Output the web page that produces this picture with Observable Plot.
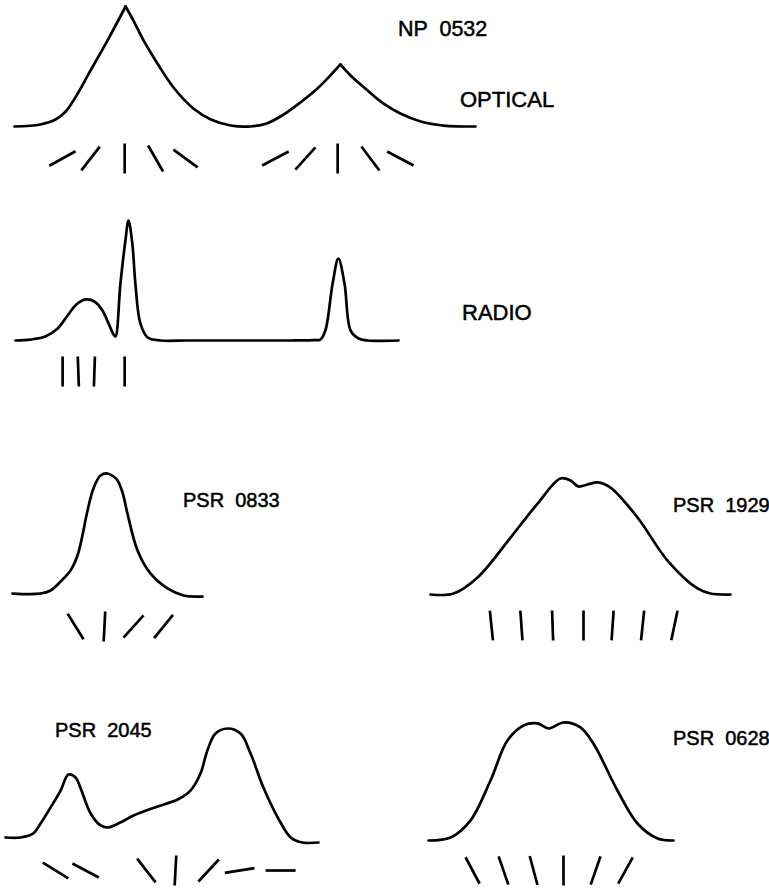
<!DOCTYPE html>
<html><head><meta charset="utf-8">
<script src="https://cdn.jsdelivr.net/npm/d3@7"></script>
<script src="https://cdn.jsdelivr.net/npm/@observablehq/plot@0.6"></script>
<style>
html,body{margin:0;padding:0;background:#fff;}
#fig{position:relative;width:769px;height:890px;background:#fff;overflow:hidden;}
.lab{position:absolute;font-family:"Liberation Sans",Arial,sans-serif;line-height:1;color:#000;white-space:pre;-webkit-text-stroke:0.5px #000;}
</style></head><body><div id="fig"></div>
<script>
// ---- Data: pulse phase (0-100 across each trace) and relative intensity (0-100) ----
const opticalProfile = [[0,0],[5.6,1.7],[8.9,5.8],[11.1,12.5],[13.2,24.2],[16.5,46.7],[20.4,73.3],[24.1,100],
  [25.8,88.3],[28,71.7],[31,52.5],[34.5,32.5],[38.8,15],[42.6,5.8],[46.9,0.8],[51.2,0],[54.7,2.5],[58.4,10],
  [62,20],[65.7,31.7],[68.5,42.5],[70.7,51.7],[72.9,42.5],[76.6,30],[80,19.2],[83.7,10.8],[88.1,4.2],[93.1,0.8],[100,0]];
const opticalCusps = [24.1, 70.7];
const opticalTickPhase = [10.4,16.5,23.9,30.6,37.1,56.6,63.1,70.1,77.2,83.7];
const opticalTickAngle = [61,38,0,-30,-54,62,42,0,-37,-62];

const radioProfile = [[0,0],[3.9,0.8],[7.8,3.3],[11,10],[13.6,20.8],[15.9,30],[18.3,34.2],[20.6,32.5],[22.7,25],
  [24.3,14.2],[25.6,5],[26.1,3.3],[27.4,47.5],[28.7,83.3],[29.5,100],[30.5,80.8],[31.3,47.5],[32.6,14.2],
  [34.5,2.5],[37.9,0],[45,0],[60,0],[72,0],[78,0.3],[79.6,0.8],[80.9,8.3],
  [82.8,47.5],[84.3,68.3],[85.9,47.5],[87.5,8.3],[89.6,1.7],[92,0],[100,0]];
const radioTickPhase = [12.3,16.4,20.6,28.5];
const radioTickAngle = [0,-2,2,0];

const psr0833Profile = [[0,0.8],[14.7,0.8],[20,3.3],[25.3,10.7],[30.5,19.8],[34.2,32.2],[36.8,48.8],[39.5,69.4],
  [42.6,87.6],[46.3,98.3],[50,100],[53.2,97.5],[55.3,94.2],[57.9,84.3],[60.5,66.9],[65.8,36.4],[72.6,17.4],
  [81.6,5],[90,-0.8],[100,-1.7]];
const psr0833TickPhase = [33.2,48.4,63.7,79.5];
const psr0833TickAngle = [-32,3,42,39];

const psr1929Profile = [[0,0],[7.7,0.9],[15.7,14.7],[26.7,49.1],[35.7,78.4],[43.3,100],[46.7,98.3],[49.3,93.1],
  [52.3,94.8],[55.7,96.6],[60,92.2],[69,66.4],[79,29.3],[89,5.2],[93.3,0.9],[100,0]];
const psr1929TickPhase = [20.3,30.3,40.7,51,60.7,70.7,81.3];
const psr1929TickAngle = [-6,-4,-2,0,4,6,12];

const psr2045Profile = [[0,2.7],[4.8,2.7],[8.9,6.3],[11.2,15.2],[14.4,29.5],[17.6,44.6],[20.1,58.9],[22.4,56.3],
  [23.9,47.3],[27.2,24.1],[30.4,13.4],[32.6,11.6],[36.7,16.1],[40.9,22.3],[48.6,30.4],[55,36.6],[59.1,44.6],
  [62.3,59.8],[64.5,80.4],[67.1,95.5],[70.9,100],[75.1,95.5],[78.3,77.7],[82.4,47.3],[87,20.5],[91.1,2.7],
  [94.9,-1.8],[100,-1.8]];
const psr2045TickPhase = [16,25.6,45,54.3,64.9,74.8,87.9];
const psr2045TickAngle = [-58,-62,-38,3,43,81,90];

const psr0628Profile = [[0,0],[9,2.5],[17.1,16.9],[25.3,50.8],[32.2,84.7],[38.8,97.5],[44.5,99.2],[49,94.9],
  [55.1,100],[62,95.8],[67.3,82.2],[77.1,42.4],[85.3,14.4],[93.5,1.7],[100,0]];
const psr0628TickPhase = [18,30.6,42.9,55.1,68.2,80.4];
const psr0628TickAngle = [-28,-19,-15,0,19,29];

const labelTexts = ["NP  0532","OPTICAL","RADIO","PSR  0833","PSR  1929","PSR  2045","PSR  0628"];

// ---- Layout (page pixels) ----
const panels = [
  {profile: opticalProfile, cusps: opticalCusps, tp: opticalTickPhase, ta: opticalTickAngle, x0:14, x1:475, top:6, base:126, tickDy:32},
  {profile: radioProfile, cusps: [], tp: radioTickPhase, ta: radioTickAngle, x0:15, x1:398, top:220, base:340, tickDy:31},
  {profile: psr0833Profile, cusps: [], tp: psr0833TickPhase, ta: psr0833TickAngle, x0:12, x1:202, top:473, base:594, tickDy:32},
  {profile: psr1929Profile, cusps: [], tp: psr1929TickPhase, ta: psr1929TickAngle, x0:430, x1:730, top:478, base:594, tickDy:31},
  {profile: psr2045Profile, cusps: [], tp: psr2045TickPhase, ta: psr2045TickAngle, x0:5, x1:318, top:728, base:840, tickDy:30},
  {profile: psr0628Profile, cusps: [], tp: psr0628TickPhase, ta: psr0628TickAngle, x0:428, x1:673, top:722, base:840, tickDy:30}
];
const labelPos = [
  {x:398, base:37, size:21.5},{x:460, base:108, size:22},{x:462, base:321, size:22},
  {x:183, base:507, size:20},{x:673, base:512, size:20},{x:55, base:737, size:20},{x:673, base:745, size:20}
];

const fig = document.getElementById("fig");
const pad = 6, bottomSpace = 55, lw = 2.7;

for (const p of panels) {
  // split the trace at sharp cusps so each flank is smoothed separately
  const rows = [];
  p.profile.forEach(([phase, inten]) => {
    const seg = p.cusps.filter(c => c < phase).length;
    rows.push({phase, inten, seg});
    if (p.cusps.includes(phase)) rows.push({phase, inten, seg: seg + 1});
  });
  const ticks = p.tp.map((phase, i) => ({phase, angle: p.ta[i]}));
  const w = p.x1 - p.x0, h = p.base - p.top;
  const svg = Plot.plot({
    width: w + 2*pad, height: h + pad + bottomSpace,
    marginLeft: pad, marginRight: pad, marginTop: pad, marginBottom: bottomSpace,
    x: {domain: [0, 100], axis: null},
    y: {domain: [0, 100], axis: null},
    style: {position: "absolute", left: (p.x0 - pad) + "px", top: (p.top - pad) + "px", overflow: "visible", background: "transparent"},
    marks: [
      Plot.line(rows, {x: "phase", y: "inten", z: "seg", curve: "catmull-rom", stroke: "black", strokeWidth: lw, strokeLinejoin: "round"}),
      Plot.vector(ticks, {x: "phase", frameAnchor: "bottom", dy: p.tickDy, rotate: "angle", length: 30, anchor: "middle", r: 0, stroke: "black", strokeWidth: lw, strokeLinecap: "butt"})
    ]
  });
  fig.appendChild(svg);
}

labelTexts.forEach((t, i) => {
  const L = labelPos[i];
  const d = document.createElement("div");
  d.className = "lab";
  d.textContent = t;
  d.style.fontSize = L.size + "px";
  d.style.left = L.x + "px";
  d.style.top = (L.base - 0.8465 * L.size) + "px";
  fig.appendChild(d);
});
</script></body></html>
